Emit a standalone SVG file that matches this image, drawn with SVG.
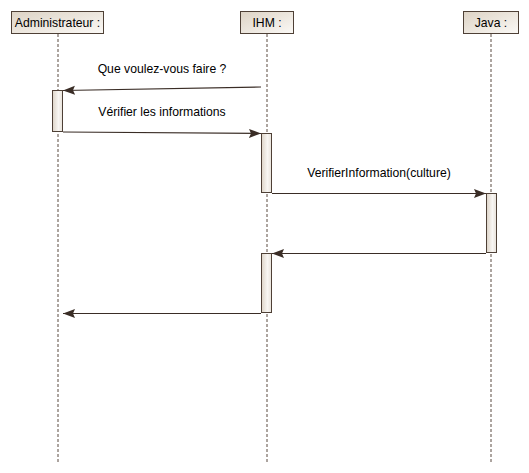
<svg xmlns="http://www.w3.org/2000/svg" width="529" height="473" viewBox="0 0 529 473">
<style>
.box{fill:url(#g);stroke:#4e4036;stroke-width:1}
.act{fill:url(#ga);stroke:#4e4036;stroke-width:1}
.life{stroke:#5a4b40;stroke-width:1;stroke-dasharray:3,2;fill:none}
.msg{stroke:#3a2d26;stroke-width:1.2;fill:none;marker-end:url(#arr)}
text{font-family:"Liberation Sans",Arial,sans-serif;font-size:12.2px;fill:#000}
</style>
<defs>
<linearGradient id="g" x1="0" y1="0" x2="1" y2="1">
<stop offset="0" stop-color="#ddd3c5"/>
<stop offset="1" stop-color="#fbf9f6"/>
</linearGradient>
<linearGradient id="ga" x1="0" y1="0" x2="1" y2="0">
<stop offset="0" stop-color="#ddd4c8"/>
<stop offset="0.6" stop-color="#f8f6f3"/>
<stop offset="1" stop-color="#e8e2da"/>
</linearGradient>
<marker id="arr" markerWidth="12" markerHeight="10" refX="12" refY="5" orient="auto" markerUnits="userSpaceOnUse">
<path d="M0,0.5 L12,5 L0,9.5 L2,5 Z" fill="#3a2d26"/>
</marker>
</defs>
<g id="lifelines">
<line class="life" x1="58" y1="34" x2="58" y2="463"/>
<line class="life" x1="267" y1="34" x2="267" y2="463"/>
<line class="life" x1="491" y1="34" x2="491" y2="463"/>
</g>
<g id="administrateur">
<rect class="box" x="11.5" y="11.5" width="92" height="22"/>
<text x="57.5" y="27" text-anchor="middle">Administrateur :</text>
<rect class="act" x="52.5" y="90.5" width="10" height="41"/>
</g>
<g id="ihm">
<rect class="box" x="240.5" y="11.5" width="53" height="22"/>
<text x="267" y="27" text-anchor="middle">IHM :</text>
<rect class="act" x="261.5" y="133.5" width="10" height="59"/>
<rect class="act" x="261.5" y="253.5" width="10" height="59"/>
</g>
<g id="java">
<rect class="box" x="463.5" y="11.5" width="55" height="22"/>
<text x="491" y="27" text-anchor="middle">Java :</text>
<rect class="act" x="486.5" y="193.5" width="10" height="59"/>
</g>
<g id="connectors">
<line class="msg" x1="261" y1="87" x2="63" y2="90.5"/>
<text x="162" y="73" text-anchor="middle">Que voulez-vous faire ?</text>
<line class="msg" x1="63" y1="132" x2="261" y2="133.5"/>
<text x="162" y="116" text-anchor="middle">Vérifier les informations</text>
<line class="msg" x1="272" y1="193.5" x2="486" y2="193.5"/>
<text x="379" y="177" text-anchor="middle">VerifierInformation(culture)</text>
<line class="msg" x1="486" y1="253.5" x2="272" y2="253.5"/>
<line class="msg" x1="261" y1="313.5" x2="63" y2="313.5"/>
</g>
</svg>
